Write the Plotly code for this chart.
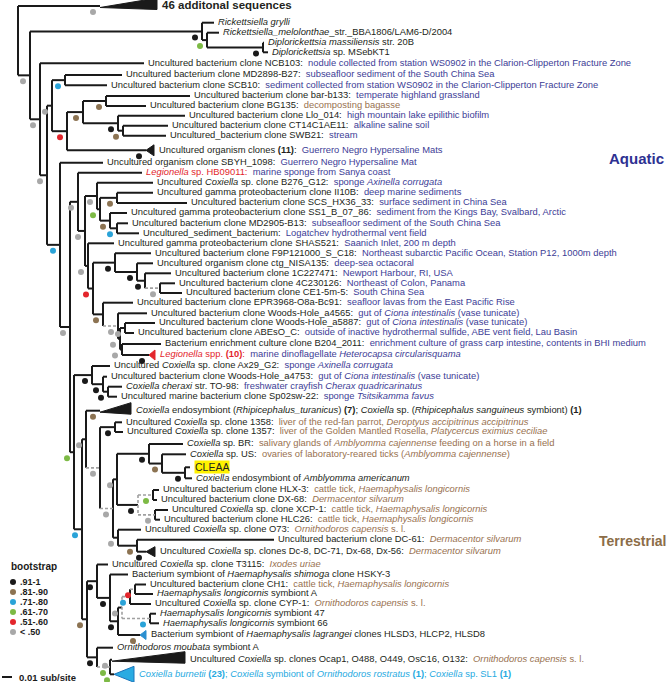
import plotly.graph_objects as go

# ---------------- DATA ----------------
node_id = ["R", "N1", "Rk", "Rk2", "Dp", "N2", "N3", "Na", "GMD", "Gb0",
           "Gb1", "Gbar", "Gllo", "Gct", "N4", "N5", "NL", "X", "n97", "n100",
           "nII", "nSS1", "nSS", "n88", "n93", "n115", "n137", "n145", "n4C", "n103",
           "W0", "W1", "W2", "W3", "N6", "AxG", "Ax2", "Ax3", "N7", "T1a",
           "T1b", "n1358", "T1c", "HB", "BRn", "nUS", "CL", "n138", "HLX", "XCP",
           "Oo", "Od", "B", "Bt", "Hk", "Hh", "Hr", "Hq", "Hp", "Hs",
           "Bo", "Bo1"]
node_parent = [None, "R", "N1", "Rk", "Rk2", "N1", "N2", "N3", "Na", "Na",
               "Gb0", "Gb1", "Gb1", "Gllo", "N3", "N4", "N5", "NL", "X", "n97",
               "n100", "n100", "nSS1", "X", "n88", "n93", "n115", "n137", "n145", "n93",
               "n103", "W0", "W1", "W1", "N5", "N6", "AxG", "Ax2", "N6", "N7",
               "T1a", "T1b", "T1b", "T1c", "HB", "BRn", "nUS", "HB", "n138", "n138",
               "T1c", "Oo", "N7", "B", "Bt", "Hk", "Hh", "Hr", "Hq", "Hr",
               "B", "Bo"]
node_depth = [0.000, 0.012, 0.184, 0.189, 0.245, 0.022, 0.029, 0.034, 0.047, 0.049,
              0.065, 0.088, 0.100, 0.105, 0.042, 0.052, 0.060, 0.067, 0.079, 0.082,
              0.099, 0.092, 0.099, 0.070, 0.075, 0.097, 0.119, 0.127, 0.142, 0.085,
              0.100, 0.102, 0.107, 0.104, 0.056, 0.074, 0.085, 0.090, 0.064, 0.068,
              0.082, 0.097, 0.095, 0.099, 0.131, 0.144, 0.167, 0.120, 0.135, 0.137,
              0.100, 0.119, 0.069, 0.079, 0.092, 0.100, 0.104, 0.112, 0.117, 0.132,
              0.079, 0.092]
node_support = [None, "<.50", ".91-1", ".61-.70", ".91-1", "<.50", "<.50", "<.50", ".71-.80", ".51-.60",
                ".81-.90", ".81-.90", ".91-1", ".81-.90", ".71-.80", "<.50", "<.50", "<.50", "<.50", ".61-.70",
                ".81-.90", ".81-.90", ".71-.80", "<.50", ".51-.60", ".91-1", ".91-1", ".91-1", "<.50", ".81-.90",
                "<.50", "<.50", "<.50", "<.50", ".61-.70", ".91-1", ".91-1", ".91-1", ".71-.80", "<.50",
                "<.50", ".91-1", "<.50", "<.50", ".91-1", ".81-.90", ".91-1", ".91-1", ".61-.70", "<.50",
                "<.50", ".81-.90", ".81-.90", ".91-1", ".91-1", ".91-1", "<.50", ".71-.80", ".51-.60", ".71-.80",
                ".91-1", ".61-.70"]
node_dashed = [0, 0, 0, 0, 0, 0, 0, 0, 0, 0,
               0, 0, 0, 0, 0, 0, 0, 0, 0, 0,
               0, 0, 0, 0, 0, 0, 0, 0, 1, 0,
               1, 0, 0, 0, 0, 0, 0, 0, 0, 0,
               1, 0, 1, 0, 0, 0, 0, 0, 1, 1,
               0, 0, 0, 0, 0, 0, 0, 1, 1, 1,
               0, 1]

leaf_id = ["L46", "grylli", "melol", "massil", "mseb", "NCB103", "MD2898", "SCB10", "barb133", "BG135",
           "Llo", "CT14", "SWB21", "GN", "SBYH", "LegHB", "B276", "II10B", "SCS", "SS1",
           "MD2905", "sedim", "SHAS", "F9P", "NISA", "C227", "C230", "CE1", "EPR", "WH4565",
           "WH5887", "ABEsO", "B204", "LegSpp", "Ax29", "WH4753", "cheraxi", "Sp02", "turan", "c1358",
           "c1357", "BR", "US", "CLEAA", "CoxAa", "HLX3", "DX68", "XCP1", "HLC26", "O73",
           "DC61", "Dc8", "T3115", "HSKY", "CH1", "symA", "CYP1", "s47", "s66", "HLSD3",
           "moubata", "Ocap1", "burnetii"]
leaf_parent = ["R", "Rk", "Rk2", "Dp", "Dp", "N2", "GMD", "GMD", "Gbar", "Gbar",
               "Gllo", "Gct", "Gct", "Gb0", "N4", "NL", "n97", "nII", "nII", "nSS1",
               "nSS", "nSS", "n88", "n115", "n137", "n145", "n4C", "n4C", "n103", "W0",
               "W2", "W2", "W3", "W3", "AxG", "Ax2", "Ax3", "Ax3", "T1a", "n1358",
               "n1358", "BRn", "nUS", "CL", "CL", "HLX", "HLX", "XCP", "XCP", "Oo",
               "Od", "Od", "Bt", "Hk", "Hp", "Hp", "Hq", "Hs", "Hs", "Hh",
               "Bo", "Bo1", "Bo1"]
leaf_row = [6.0, 22.7, 32.7, 42.7, 52.3, 63.3, 75.0, 85.3, 96.0, 106.0,
            115.7, 125.7, 135.7, 150.3, 162.7, 172.7, 182.7, 192.7, 203.0, 213.0,
            223.3, 233.3, 243.3, 253.3, 263.3, 273.3, 283.3, 293.0, 302.7, 313.3,
            323.0, 333.0, 344.0, 355.0, 366.0, 376.7, 386.7, 396.7, 410.7, 422.3,
            432.0, 444.0, 454.3, 467.3, 478.3, 490.0, 500.0, 510.0, 519.7, 529.7,
            539.7, 551.7, 564.5, 574.5, 584.5, 594.0, 604.0, 613.7, 623.3, 635.0,
            647.7, 659.7, 674.3]
leaf_tip = [0.139, 0.196, 0.201, 0.246, 0.250, 0.126, 0.104, 0.089, 0.172, 0.128,
            0.167, 0.150, 0.148, 0.136, 0.085, 0.124, 0.135, 0.135, 0.169, 0.109,
            0.110, 0.121, 0.096, 0.133, 0.135, 0.153, 0.157, 0.164, 0.115, 0.129,
            0.137, 0.116, 0.143, 0.137, 0.092, 0.089, 0.104, 0.099, 0.113, 0.104,
            0.105, 0.165, 0.168, 0.172, 0.174, 0.141, 0.139, 0.150, 0.142, 0.123,
            0.256, 0.137, 0.090, 0.110, 0.128, 0.135, 0.133, 0.138, 0.141, 0.128,
            0.095, 0.167, 0.116]
leaf_apex = [0.082, None, None, None, None, None, None, None, None, None,
             None, None, None, 0.128, None, None, None, None, None, None,
             None, None, None, None, None, None, None, None, None, None,
             None, None, None, 0.131, None, None, None, None, 0.082, None,
             None, None, None, None, None, None, None, None, None, None,
             None, 0.128, None, None, None, None, None, None, None, 0.122,
             None, 0.094, 0.096]
leaf_shape = ["wedge", "tip", "tip", "tip", "tip", "tip", "tip", "tip", "tip", "tip",
              "tip", "tip", "tip", "tri", "tip", "tip", "tip", "tip", "tip", "tip",
              "tip", "tip", "tip", "tip", "tip", "tip", "tip", "tip", "tip", "tip",
              "tip", "tip", "tip", "tri", "tip", "tip", "tip", "tip", "wedge", "tip",
              "tip", "tip", "tip", "tip", "tip", "tip", "tip", "tip", "tip", "tip",
              "tip", "tri", "tip", "tip", "tip", "tip", "tip", "tip", "tip", "tri",
              "tip", "wedge", "tri"]
leaf_support = {"L46": "<.50", "GN": ".91-1", "LegSpp": ".91-1", "turan": ".81-.90",
                "Dc8": ".91-1", "HLSD3": ".81-.90", "Ocap1": "<.50", "burnetii": ".61-.70"}
leaf_name = [
    "<b>46 additonal sequences</b>",
    "<i>Rickettsiella grylli</i>",
    "<i>Rickettsiella_melolonthae</i>_str._BBA1806/LAM6-D/2004",
    "<i>Diplorickettsia massiliensis</i> str. 20B",
    "<i>Diplorickettsia</i> sp. MSebKT1",
    "Uncultured bacterium clone NCB103:",
    "Uncultured bacterium clone MD2898-B27:",
    "Uncultured bacterium clone SCB10:",
    "Uncultured bacterium clone bar-b133:",
    "Uncultured bacterium clone BG135:",
    "Uncultured bacterium clone Llo_014:",
    "Uncultured bacterium clone CT14C1AE11:",
    "Uncultured_bacterium clone SWB21:",
    "Uncultured organism clones <b>(11)</b>:",
    "Uncultured organism clone SBYH_1098:",
    "<i>Legionella</i> sp. HB09011:",
    "Uncultured <i>Coxiella</i> sp. clone B276_G12:",
    "Uncultured gamma proteobacterium clone II10B:",
    "Uncultured bacterium clone SCS_HX36_33:",
    "Uncultured gamma proteobacterium clone SS1_B_07_86:",
    "Uncultured bacterium clone MD2905-B13:",
    "Uncultured_sediment_bacterium:",
    "Uncultured gamma proteobacterium clone SHAS521:",
    "Uncultured bacterium clone F9P121000_S_C18:",
    "Uncultured organism clone ctg_NISA135:",
    "Uncultured bacterium clone 1C227471:",
    "Uncultured bacterium clone 4C230126:",
    "Uncultured bacterium clone CE1-5m-5:",
    "Uncultured bacterium clone EPR3968-O8a-Bc91:",
    "Uncultured bacterium clone Woods-Hole_a4565:",
    "Uncultured bacterium clone Woods-Hole_a5887:",
    "Uncultured bacterium clone ABEsO_C:",
    "Bacterium enrichment culture clone B204_2011:",
    "<i>Legionella</i> spp. <b>(10)</b>:",
    "Uncultured <i>Coxiella</i> sp. clone Ax29_G2:",
    "Uncultured bacterium clone Woods-Hole_a4753:",
    "<i>Coxiella cheraxi</i> str. TO-98:",
    "Uncultured marine bacterium clone Sp02sw-22:",
    "<i>Coxiella</i> endosymbiont (<i>Rhipicephalus_turanicus</i>) <b>(7)</b>; <i>Coxiella</i> sp. (<i>Rhipicephalus sanguineus</i> symbiont) <b>(1)</b>",
    "Uncultured <i>Coxiella</i> sp. clone 1358:",
    "Uncultured <i>Coxiella</i> sp. clone 1357:",
    "<i>Coxiella</i> sp. BR:",
    "<i>Coxiella</i> sp. US:",
    "CLEAA",
    "<i>Coxiella</i> endosymbiont of <i>Amblyomma americanum</i>",
    "Uncultured bacterium clone HLX-3:",
    "Uncultured bacterium clone DX-68:",
    "Uncultured <i>Coxiella</i> sp. clone XCP-1:",
    "Uncultured bacterium clone HLC26:",
    "Uncultured <i>Coxiella</i> sp. clone O73:",
    "Uncultured bacterium clone DC-61:",
    "Uncultured <i>Coxiella</i> sp. clones Dc-8, DC-71, Dx-68, Dx-56:",
    "Uncultured <i>Coxiella</i> sp. clone T3115:",
    "Bacterium symbiont of <i>Haemaphysalis shimoga</i> clone HSKY-3",
    "Uncultured bacterium clone CH1:",
    "<i>Haemaphysalis longicornis</i> symbiont A",
    "Uncultured <i>Coxiella</i> sp. clone CYP-1:",
    "<i>Haemaphysalis longicornis</i> symbiont 47",
    "<i>Haemaphysalis longicornis</i> symbiont 66",
    "Bacterium symbiont of <i>Haemaphysalis lagrangei</i> clones HLSD3, HLCP2, HLSD8",
    "<i>Ornithodoros moubata</i> symbiont A",
    "Uncultured <i>Coxiella</i> sp. clones Ocap1, O488, O449, OsC16, O132:",
    "<i>Coxiella burnetii</i> <b>(23)</b>; <i>Coxiella</i> symbiont of <i>Ornithodoros rostratus</i> <b>(1)</b>; <i>Coxiella</i> sp. SL1 <b>(1)</b>",
]
leaf_source = [
    "", "", "", "", "",
    "nodule collected from station WS0902 in the Clarion-Clipperton Fracture Zone",
    "subseafloor sediment of the South China Sea",
    "sediment collected from station WS0902 in the Clarion-Clipperton Fracture Zone",
    "temperate highland grassland",
    "decomposting bagasse",
    "high mountain lake epilithic biofilm",
    "alkaline saline soil",
    "stream",
    "Guerrero Negro Hypersaline Mats",
    "Guerrero Negro Hypersaline Mat",
    "marine sponge from Sanya coast",
    "sponge <i>Axinella corrugata</i>",
    "deep marine sediments",
    "surface sediment in China Sea",
    "sediment from the Kings Bay, Svalbard, Arctic",
    "subseafloor sediment of the South China Sea",
    "Logatchev hydrothermal vent field",
    "Saanich Inlet, 200 m depth",
    "Northeast subarctic Pacific Ocean, Station P12, 1000m depth",
    "deep-sea octacoral",
    "Newport Harbour, RI, USA",
    "Northeast of Colon, Panama",
    "South China Sea",
    "seafloor lavas from the East Pacific Rise",
    "gut of <i>Ciona intestinalis</i> (vase tunicate)",
    "gut of <i>Ciona intestinalis</i> (vase tunicate)",
    "outside of inactive hydrothermal sulfide, ABE vent field, Lau Basin",
    "enrichment culture of grass carp intestine, contents in BHI medium",
    "marine dinoflagellate <i>Heterocapsa circularisquama</i>",
    "sponge <i>Axinella corrugata</i>",
    "gut of <i>Ciona intestinalis</i> (vase tunicate)",
    "freshwater crayfish <i>Cherax quadricarinatus</i>",
    "sponge <i>Tsitsikamma favus</i>",
    "",
    "liver of the red-fan parrot, <i>Deroptyus accipitrinus accipitrinus</i>",
    "liver of the Golden Mantled Rosella, <i>Platycercus eximius ceciliae</i>",
    "salivary glands of <i>Amblyomma cajennense</i> feeding on a horse in a field",
    "ovaries of laboratory-reared ticks (<i>Amblyomma cajennense</i>)",
    "", "",
    "cattle tick, <i>Haemaphysalis longicornis</i>",
    "<i>Dermacentor silvarum</i>",
    "cattle tick, <i>Haemaphysalis longicornis</i>",
    "cattle tick, <i>Haemaphysalis longicornis</i>",
    "<i>Ornithodoros capensis</i> s. l.",
    "<i>Dermacentor silvarum</i>",
    "<i>Dermacentor silvarum</i>",
    "<i>Ixodes uriae</i>",
    "",
    "cattle tick, <i>Haemaphysalis longicornis</i>",
    "",
    "<i>Ornithodoros capensis</i> s. l.",
    "", "", "", "",
    "<i>Ornithodoros capensis</i> s. l.",
    "",
]
leaf_env = ["", "", "", "", "", "A", "A", "A", "A", "T",
            "A", "A", "A", "A", "A", "A", "A", "A", "A", "A",
            "A", "A", "A", "A", "A", "A", "A", "A", "A", "A",
            "A", "A", "A", "A", "A", "A", "A", "A", "", "T",
            "T", "T", "T", "", "", "T", "T", "T", "T", "T",
            "T", "T", "T", "", "T", "", "T", "", "", "",
            "", "T", ""]
legionella_leaves = ["LegHB", "LegSpp"]
burnetii_leaves = ["burnetii"]

support_classes = [".91-1", ".81-.90", ".71-.80", ".61-.70", ".51-.60", "<.50"]
support_labels = [".91-1", ".81-.90", ".71-.80", ".61-.70", ".51-.60", "< .50"]
scale_length = 0.01

# ---------------- STYLE ----------------
FONT = "Liberation Sans, Arial, Helvetica, sans-serif"
FS = 9.4
LINE = "#1a1a1a"
DASHC = "#a0a0a0"
SUP_COL = {".91-1": "#1a1a1a", ".81-.90": "#8c7352", ".71-.80": "#2aa3d8",
           ".61-.70": "#7dba45", ".51-.60": "#e3262c", "<.50": "#a8a8a8"}
NAME_COL = "#231f20"
LEG_COL = "#e3262c"
BUR_COL = "#27aae1"
ENV_COL = {"A": "#3d3d96", "T": "#98714f"}
TRI_FILL = {"GN": "#1a1a1a", "LegSpp": "#e3262c", "Dc8": "#1a1a1a",
            "HLSD3": "#2a8fd0", "burnetii": "#29abe2"}
TRI_HALF = {"GN": 5.5, "LegSpp": 5, "Dc8": 5, "HLSD3": 4.5, "burnetii": 8}
W, H = 667, 682
X0PX = 18.0
PXPER = 1000.0
GAP = 0.004


def xpx(px):
    return (px - X0PX) / PXPER


depth = dict(zip(node_id, node_depth))
dashed = dict(zip(node_id, node_dashed))
children = {n: [] for n in node_id}
parent = {}
for n, p in zip(node_id, node_parent):
    if p is not None:
        children[p].append(n)
        parent[n] = p
ypos = {}
for i, lid in enumerate(leaf_id):
    ypos[lid] = leaf_row[i]
    depth[lid] = leaf_apex[i] if leaf_apex[i] is not None else leaf_tip[i]
    dashed[lid] = 0
    children[leaf_parent[i]].append(lid)
    parent[lid] = leaf_parent[i]


def gety(n):
    if n in ypos:
        return ypos[n]
    ys = [gety(c) for c in children[n]]
    ypos[n] = (min(ys) + max(ys)) / 2.0
    return ypos[n]


gety("R")

sx, sy, dx, dy = [], [], [], []


def seg(x0, y0, x1, y1, d):
    if d:
        dx.extend([x0, x1, None]); dy.extend([y0, y1, None])
    else:
        sx.extend([x0, x1, None]); sy.extend([y0, y1, None])


for n in list(node_id) + list(leaf_id):
    if n in parent:
        seg(depth[parent[n]], ypos[n], depth[n], ypos[n], dashed[n])
for n in node_id:
    ys = [ypos[c] for c in children[n]]
    alld = all(dashed[c] for c in children[n])
    seg(depth[n], min(ys), depth[n], max(ys), alld)

fig = go.Figure()
fig.add_trace(go.Scatter(x=sx, y=sy, mode="lines", line=dict(color=LINE, width=2),
                         hoverinfo="skip"))
fig.add_trace(go.Scatter(x=dx, y=dy, mode="lines",
                         line=dict(color=DASHC, width=1.6, dash="3px,2px"), hoverinfo="skip"))

for i, lid in enumerate(leaf_id):
    if leaf_shape[i] == "tip":
        continue
    a, b, y = leaf_apex[i], leaf_tip[i], leaf_row[i]
    if leaf_shape[i] == "wedge":
        px_ = [a, b, b, a]
        py_ = [y + 1.5, y - 8, y + 3.5, y + 1.5]
        fill, lc = "#1a1a1a", "#1a1a1a"
    else:
        h = TRI_HALF[lid]
        px_ = [a, b, b, a]
        py_ = [y, y - h, y + h, y]
        fill = TRI_FILL[lid]
        lc = "#1b75bb" if lid == "burnetii" else fill
    fig.add_trace(go.Scatter(x=px_, y=py_, mode="lines", fill="toself", fillcolor=fill,
                             line=dict(color=lc, width=1), hoverinfo="skip"))

bx, by, bc = [], [], []
for n, s in zip(node_id, node_support):
    if s is None:
        continue
    bx.append(depth[n] - 0.007); by.append(ypos[n] + 6); bc.append(SUP_COL[s])
for lid, s in leaf_support.items():
    bx.append(depth[lid] - 0.007); by.append(ypos[lid] + 6); bc.append(SUP_COL[s])
fig.add_trace(go.Scatter(x=bx, y=by, mode="markers",
                         marker=dict(size=6, color=bc, line=dict(width=0)), hoverinfo="skip"))

tx, ty, tt, tc, ts = [], [], [], [], []
ann = []
for i, lid in enumerate(leaf_id):
    col = NAME_COL
    if lid in legionella_leaves:
        col = LEG_COL
    if lid in burnetii_leaves:
        col = BUR_COL
    txt = leaf_name[i]
    if leaf_source[i]:
        txt += "\u00a0\u00a0<span style='color:%s'>%s</span>" % (ENV_COL[leaf_env[i]], leaf_source[i])
    xx = leaf_tip[i] + (GAP if leaf_shape[i] == "tip" else GAP + 0.001)
    if lid == "CLEAA":
        ann.append(dict(x=xx, y=leaf_row[i], xref="x", yref="y", text=txt, showarrow=False,
                        xanchor="left", yanchor="middle", bgcolor="#fff200", borderpad=0,
                        font=dict(family=FONT, size=10.5, color=col)))
        continue
    tx.append(xx); ty.append(leaf_row[i]); tt.append(txt); tc.append(col)
    ts.append(11.5 if lid == "L46" else FS)
fig.add_trace(go.Scatter(x=tx, y=ty, text=tt, mode="text", textposition="middle right",
                         textfont=dict(family=FONT, size=ts, color=tc), cliponaxis=False,
                         hoverinfo="skip"))

ann.append(dict(x=xpx(636), y=158, text="<b>Aquatic</b>", showarrow=False, xanchor="center",
                yanchor="middle", font=dict(family=FONT, size=15, color="#2e3192")))
ann.append(dict(x=xpx(632), y=541, text="<b>Terrestrial</b>", showarrow=False, xanchor="center",
                yanchor="middle", font=dict(family=FONT, size=14, color="#8c6d48")))

ann.append(dict(x=xpx(9), y=566, text="<b>bootstrap</b>", showarrow=False, xanchor="left",
                yanchor="middle", font=dict(family=FONT, size=10, color="#1a1a1a")))
lx, ly, lc = [], [], []
for k, (cls, lab) in enumerate(zip(support_classes, support_labels)):
    yy = 582 + 10 * k
    lx.append(xpx(13)); ly.append(yy); lc.append(SUP_COL[cls])
    ann.append(dict(x=xpx(18), y=yy, text="<b>%s</b>" % lab, showarrow=False, xanchor="left",
                    yanchor="middle", font=dict(family=FONT, size=9, color="#1a1a1a")))
fig.add_trace(go.Scatter(x=lx, y=ly, mode="markers", marker=dict(size=6, color=lc),
                         hoverinfo="skip"))

s0 = xpx(2)
fig.add_trace(go.Scatter(x=[s0, s0 + scale_length], y=[677, 677], mode="lines",
                         line=dict(color="#1a1a1a", width=2), hoverinfo="skip"))
ann.append(dict(x=s0 + scale_length, y=677, text="<b>0.01 sub/site</b>", showarrow=False,
                xanchor="left", yanchor="middle", xshift=5,
                font=dict(family=FONT, size=9.5, color="#1a1a1a")))

fig.update_layout(width=W, height=H, margin=dict(l=0, r=0, t=0, b=0),
                  plot_bgcolor="white", paper_bgcolor="white", showlegend=False,
                  annotations=ann,
                  xaxis=dict(range=[xpx(0), xpx(W)], visible=False, fixedrange=True),
                  yaxis=dict(range=[H, 0], visible=False, fixedrange=True))
fig.write_html("out.html", config={"displayModeBar": False, "staticPlot": True},
               post_script="document.body.style.margin='0';document.body.style.padding='0';")
